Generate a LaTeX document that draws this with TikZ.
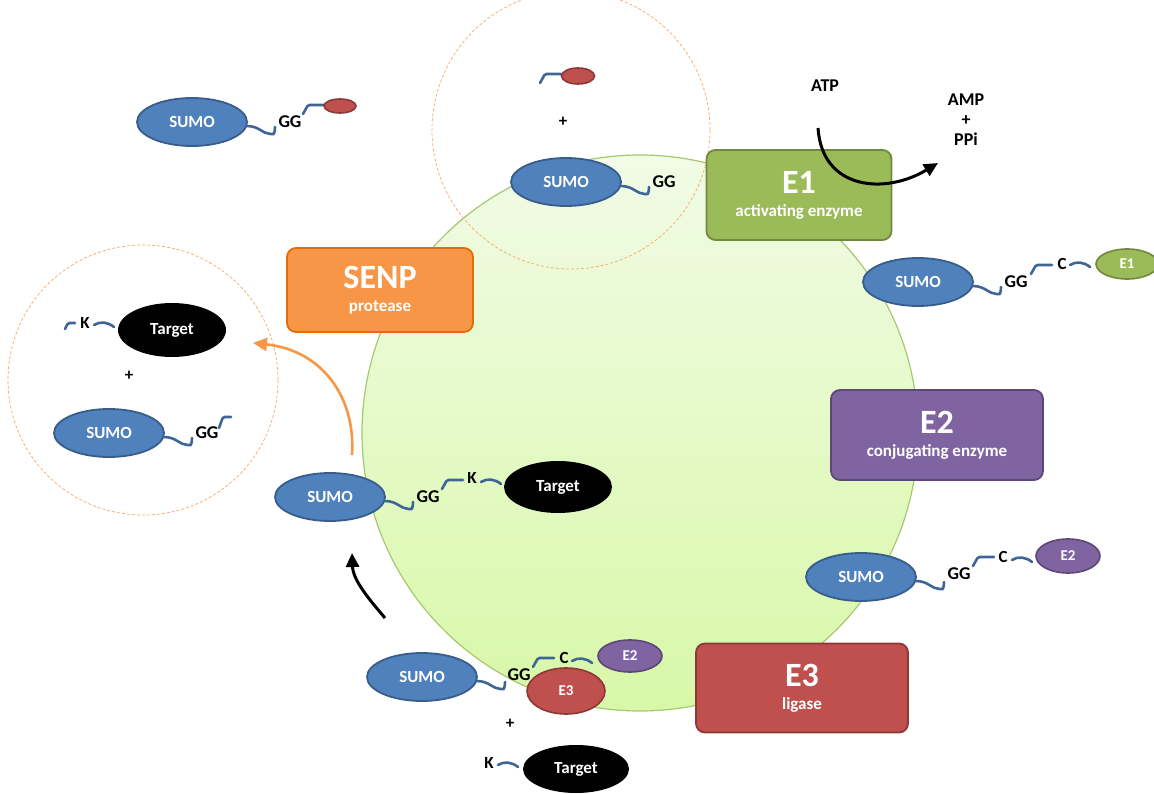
\documentclass[tikz,border=0pt]{standalone}
\usepackage{fontspec}
\setmainfont{Carlito}
\usepackage{tikz}
\usetikzlibrary{arrows.meta,shapes.geometric}
\definecolor{smblue}{HTML}{4F81BD}
\definecolor{smblueedge}{HTML}{385D8A}
\definecolor{smlink}{HTML}{3F6596}
\definecolor{smgreen}{HTML}{9BBB59}
\definecolor{smgreenedge}{HTML}{71893F}
\definecolor{smpurple}{HTML}{8064A2}
\definecolor{smpurpleedge}{HTML}{5C4776}
\definecolor{smred}{HTML}{C0504D}
\definecolor{smrededge}{HTML}{8C3836}
\definecolor{smorange}{HTML}{F79646}
\definecolor{smorangeedge}{HTML}{E46C0A}
\definecolor{smdash}{HTML}{F8A66C}
\definecolor{celltop}{HTML}{F1FBE6}
\definecolor{cellbottom}{HTML}{D8F8A8}
\definecolor{celledge}{HTML}{A6C86E}

\begin{document}
\begin{tikzpicture}[x=1pt, y=-1pt, font=\bfseries\fontsize{17}{19}\selectfont,
  sumo/.style={ellipse, draw=smblueedge, fill=smblue, line width=1.8pt, inner sep=0pt,
    minimum width=110pt, minimum height=48pt, text=white},
  target/.style={ellipse, fill=black, inner sep=0pt, minimum width=108pt,
    minimum height=52pt, text=white},
  blob/.style={ellipse, line width=1.6pt, inner sep=0pt, text=white,
    font=\bfseries\fontsize{15}{17}\selectfont},
  enzbox/.style={rounded corners=9pt, line width=1.8pt, inner sep=0pt, text=white, align=center},
  link/.style={draw=smlink, line width=2.6pt, line cap=round, rounded corners=1.5pt},
  lbl/.style={inner sep=0pt, text=black},
  gg/.style={inner sep=0pt, text=black, font=\bfseries\fontsize{18}{20}\selectfont},
  ring/.style={circle, draw=smdash, line width=0.7pt, dash pattern=on 3pt off 2pt,
    inner sep=0pt, minimum size=#1},
  bigarrow/.style={line width=3pt, -{Triangle[length=14pt,width=13pt]}}]

  \useasboundingbox (0,0) rectangle (1154,794);

  % linker pieces
  \newcommand{\ggtail}[2]{%
    \begin{scope}[shift={(#1,#2)}]
      \draw[link] (0,0) .. controls (12,0) and (16,8) .. (25,8)
        .. controls (27,8) and (28,5) .. (28,1);
    \end{scope}}
  \newcommand{\hooklink}[2]{%
    \begin{scope}[shift={(#1,#2)}]
      \draw[link] (0,0) -- (5,-9) -- (21,-9);
    \end{scope}}
  \newcommand{\wavelink}[2]{%
    \begin{scope}[shift={(#1,#2)}]
      \draw[link] (0,0) .. controls (6,-4) and (14,-3) .. (20,2);
    \end{scope}}
  \newcommand{\enzlabel}[2]{{\fontsize{34}{36}\selectfont #1}\\[4pt]{\fontsize{17}{19}\selectfont #2}}

  % cell
  \node[circle, minimum size=556pt, inner sep=0pt, draw=celledge, line width=1.2pt,
    top color=celltop, bottom color=cellbottom] (cell) at (640,433) {};
  \node[ring=278pt] (ringT) at (571,130) {};
  \node[ring=270pt] (ringL) at (143,380) {};

  % free SUMO precursor
  \node[sumo] (sumoA) at (192,122) {SUMO};
  \ggtail{247}{126}
  \node[gg] (ggA) at (290,122) {GG};
  \hooklink{303}{114}
  \node[blob, draw=smrededge, fill=smred, minimum width=32pt, minimum height=14pt] (tailA) at (340,106) {};

  % mature SUMO
  \hooklink{540}{83}
  \node[blob, draw=smrededge, fill=smred, minimum width=33pt, minimum height=16pt] (tailT) at (578,76) {};
  \node[lbl] (plusT) at (563,122) {+};
  \node[sumo] (sumoT) at (566,182) {SUMO};
  \ggtail{621}{186}
  \node[gg] (ggT) at (664,182) {GG};

  % E1 thioester
  \node[sumo] (sumoE1) at (918,282) {SUMO};
  \ggtail{973}{286}
  \node[gg] (ggE1) at (1016,282) {GG};
  \hooklink{1031}{274}
  \node[lbl] (cE1) at (1062,264) {C};
  \wavelink{1070}{265}
  \node[blob, draw=smgreenedge, fill=smgreen, minimum width=62pt, minimum height=30pt] (e1) at (1127,264) {E1};

  % E2 thioester
  \node[sumo] (sumoE2) at (861,577) {SUMO};
  \ggtail{916}{581}
  \node[gg] (ggE2) at (959,574) {GG};
  \hooklink{973}{566}
  \node[lbl] (cE2) at (1003,557) {C};
  \wavelink{1012}{560}
  \node[blob, draw=smpurpleedge, fill=smpurple, minimum width=64pt, minimum height=34pt] (e2) at (1068,556) {E2};

  % E3 complex
  \node[sumo] (sumoE3) at (422,677) {SUMO};
  \ggtail{477}{681}
  \hooklink{533}{667}
  \node[lbl] (cE3) at (564,658) {C};
  \wavelink{572}{661}
  \node[blob, draw=smpurpleedge, fill=smpurple, minimum width=64pt, minimum height=32pt] (e2b) at (630,656) {E2};
  \node[blob, draw=smrededge, fill=smred, minimum width=78pt, minimum height=46pt] (e3) at (566,691) {E3};
  \node[gg] (ggE3) at (519,675) {GG};
  \node[lbl] (plusE3) at (510,724) {+};
  \node[lbl] (kE3) at (489,763) {K};
  \wavelink{498}{765}
  \node[target, minimum width=106pt, minimum height=48pt] (tgE3) at (576,769) {Target};

  % conjugate
  \node[sumo] (sumoC) at (330,497) {SUMO};
  \ggtail{385}{501}
  \node[gg] (ggC) at (428,497) {GG};
  \hooklink{442}{489}
  \node[lbl] (kC) at (472,478) {K};
  \wavelink{481}{482}
  \node[target] (tgC) at (558,487) {Target};

  % deconjugated
  \begin{scope}[shift={(65,329)}]
    \draw[link] (0,0) -- (3,-6) -- (10,-6);
  \end{scope}
  \node[lbl] (kL) at (85,323) {K};
  \wavelink{94}{325}
  \node[target, minimum height=54pt] (tgL) at (172,330) {Target};
  \node[lbl] (plusL) at (129,376) {+};
  \node[sumo] (sumoL) at (109,433) {SUMO};
  \ggtail{164}{437}
  \node[gg] (ggL) at (207,433) {GG};
  \begin{scope}[shift={(219,428)}]
    \draw[link] (0,0) -- (4,-11) -- (12,-11);
  \end{scope}

  % enzymes
  \node[enzbox, draw=smgreenedge, fill=smgreen, minimum width=185pt, minimum height=90pt] (boxE1) at (799,195)
    {\enzlabel{E1}{activating enzyme}};
  \node[enzbox, draw=smorangeedge, fill=smorange, minimum width=186pt, minimum height=84pt] (boxSENP) at (380,290)
    {\enzlabel{SENP}{protease}};
  \node[enzbox, draw=smpurpleedge, fill=smpurple, minimum width=212pt, minimum height=90pt] (boxE2) at (937,435)
    {\enzlabel{E2}{conjugating enzyme}};
  \node[enzbox, draw=smrededge, fill=smred, minimum width=212pt, minimum height=89pt] (boxE3) at (802,688)
    {\enzlabel{E3}{ligase}};

  % ATP consumption
  \node[gg] (atp) at (825,86) {ATP};
  \node[gg, align=center] (amp) at (966,120) {AMP\\[0pt]+\\[0pt]PPi};
  \coordinate (atp0) at (818,128);
  \coordinate (atp1) at (938,163);
  \draw[bigarrow] (atp0) .. controls (822,190) and (885,195) .. (atp1);

  % transfer and cleavage
  \coordinate (ret0) at (385,618);
  \coordinate (ret1) at (352,553);
  \draw[bigarrow] (ret0) .. controls (368,598) and (353,580) .. (ret1);
  \coordinate (cut0) at (352,455);
  \coordinate (cut1) at (253,343);
  \draw[bigarrow, draw=smorange, line width=2.6pt] (cut0) .. controls (356,395) and (320,350) .. (cut1);
\end{tikzpicture}
\end{document}
